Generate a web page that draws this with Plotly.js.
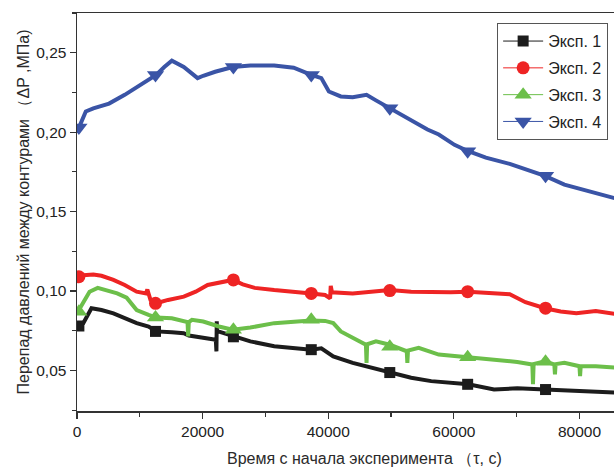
<!DOCTYPE html>
<html><head><meta charset="utf-8">
<script src="https://cdn.plot.ly/plotly-3.0.1.min.js"></script>
<style>html,body{margin:0;padding:0;background:#fff}#chart{width:614px;height:471px}</style>
</head><body><div id="chart"></div>
<script>
const seriesNames = ["Эксп. 1", "Эксп. 2", "Эксп. 3", "Эксп. 4"];
const seriesColors = ["#1c1c1c", "#ee2424", "#6cbf4a", "#3a54a6"];
const seriesSymbols = ["square", "circle", "triangle-up", "triangle-down"];

// Эксп. 1
const x1 = [0, 1000, 2300, 3900, 5800, 7600, 9500, 11400, 12600, 15100, 17000, 17800, 18900, 20800, 22100, 22200, 22250, 22300, 22600, 24800, 27600, 31400, 35100, 37300, 38900, 40800, 43900, 47000, 49800, 53200, 56400, 59500, 62300, 66400, 70100, 74500, 78300, 81400, 86000];
const y1 = [0.0777, 0.0798, 0.0892, 0.0881, 0.086, 0.0833, 0.0798, 0.0777, 0.0746, 0.074, 0.0735, 0.072, 0.0715, 0.0704, 0.0694, 0.062, 0.081, 0.074, 0.0745, 0.0715, 0.0683, 0.0652, 0.0635, 0.0631, 0.064, 0.0589, 0.0548, 0.0517, 0.0485, 0.0454, 0.0433, 0.0423, 0.0413, 0.0381, 0.0388, 0.0381, 0.0375, 0.0367, 0.036];
const m1x = [300, 12500, 24900, 37300, 49800, 62200, 74600];
const m1y = [0.078, 0.0746, 0.0712, 0.0631, 0.0487, 0.0413, 0.038];

// Эксп. 2
const x2 = [0, 1000, 2600, 3900, 5800, 7600, 9500, 11000, 11200, 11700, 12600, 14500, 17000, 18900, 20800, 22600, 24800, 26400, 28300, 31400, 35100, 37300, 39500, 40300, 40400, 40600, 43900, 47000, 49800, 53200, 56400, 59500, 62300, 65800, 68900, 71400, 74500, 77000, 79500, 82600, 86000];
const y2 = [0.1083, 0.110, 0.1104, 0.1096, 0.107, 0.1038, 0.0996, 0.0985, 0.101, 0.0944, 0.0923, 0.0944, 0.0965, 0.0996, 0.1038, 0.1054, 0.107, 0.1042, 0.102, 0.1006, 0.0996, 0.0985, 0.0975, 0.0954, 0.1033, 0.0992, 0.0985, 0.0996, 0.1006, 0.0996, 0.0992, 0.0992, 0.0996, 0.0985, 0.098, 0.093, 0.0892, 0.0871, 0.086, 0.0875, 0.0854];
const m2x = [300, 12500, 24900, 37300, 49800, 62200, 74600];
const m2y = [0.109, 0.0923, 0.107, 0.0985, 0.1003, 0.0996, 0.0892];

// Эксп. 3
const x3 = [0, 1000, 2000, 3300, 4500, 6400, 7900, 9500, 11400, 12600, 15100, 17600, 17700, 17800, 18300, 20100, 22600, 24800, 27600, 31400, 35100, 37300, 39500, 40800, 42000, 43900, 46000, 46100, 46200, 47600, 49800, 52500, 52600, 52700, 54400, 57600, 62300, 66400, 70100, 72500, 72600, 72700, 74500, 76000, 76100, 76200, 77600, 80000, 80100, 80200, 82600, 86000];
const y3 = [0.086, 0.0933, 0.0996, 0.102, 0.1006, 0.0985, 0.0958, 0.088, 0.085, 0.0833, 0.0829, 0.0804, 0.0715, 0.0805, 0.0819, 0.0808, 0.0777, 0.0756, 0.077, 0.0798, 0.0808, 0.0815, 0.0812, 0.0798, 0.0746, 0.0704, 0.0662, 0.0548, 0.0665, 0.0683, 0.0662, 0.0621, 0.0548, 0.0625, 0.0642, 0.060, 0.0583, 0.0569, 0.0554, 0.0538, 0.0413, 0.054, 0.0558, 0.0538, 0.0475, 0.054, 0.0548, 0.0527, 0.0465, 0.0528, 0.0527, 0.0517];
const m3x = [300, 12500, 24900, 37300, 49800, 62200, 74600];
const m3y = [0.087, 0.0833, 0.0756, 0.082, 0.065, 0.0583, 0.0555];

// Эксп. 4
const x4 = [0, 1400, 2600, 5100, 7600, 10100, 12600, 13900, 15100, 17000, 19200, 20100, 22000, 24800, 27600, 31400, 34500, 37300, 38900, 40100, 42000, 43900, 46100, 47600, 49800, 52600, 55800, 57600, 60100, 62300, 65100, 68900, 72000, 74500, 77600, 81400, 86000];
const y4 = [0.200, 0.213, 0.215, 0.218, 0.2235, 0.230, 0.236, 0.241, 0.245, 0.241, 0.234, 0.2355, 0.238, 0.241, 0.242, 0.242, 0.2406, 0.236, 0.234, 0.2256, 0.2225, 0.222, 0.2235, 0.220, 0.215, 0.209, 0.2017, 0.1985, 0.192, 0.188, 0.184, 0.180, 0.1756, 0.1725, 0.167, 0.163, 0.158];
const m4x = [300, 12500, 24900, 37300, 49800, 62200, 74600];
const m4y = [0.203, 0.236, 0.241, 0.236, 0.215, 0.188, 0.1725];

const xTickStep = 20000;
const yTickStep = 0.05;

const lineX = [x1, x2, x3, x4], lineY = [y1, y2, y3, y4];
const markX = [m1x, m2x, m3x, m4x], markY = [m1y, m2y, m3y, m4y];
const markerSizes = [11, 13, 15, 15];

const traces = [];
for (let i = 0; i < 4; i++) {
  traces.push({x: lineX[i], y: lineY[i], type: 'scatter', mode: 'lines',
    line: {color: seriesColors[i], width: 4}, showlegend: false, hoverinfo: 'skip'});
}
for (let i = 0; i < 4; i++) {
  traces.push({x: markX[i], y: markY[i], type: 'scatter', mode: 'markers',
    marker: {color: seriesColors[i], symbol: seriesSymbols[i], size: markerSizes[i]}, showlegend: false});
}
for (let i = 0; i < 4; i++) {
  traces.push({x: [null], y: [null], type: 'scatter', mode: 'lines+markers', name: seriesNames[i],
    legendgroup: 'g' + i,
    line: {color: seriesColors[i], width: 1}, marker: {color: seriesColors[i], symbol: seriesSymbols[i], size: markerSizes[i]}});
}

const fam = 'Liberation Sans, Arial, sans-serif';
const layout = {
  width: 614, height: 471,
  margin: {l: 77, r: 0, t: 13, b: 60},
  paper_bgcolor: '#fff', plot_bgcolor: '#fff',
  font: {family: fam, size: 15, color: '#2a2a2a'},
  separators: ',',
  showlegend: true,
  legend: {x: 0.782, y: 0.975, xanchor: 'left', yanchor: 'top', bordercolor: '#555', borderwidth: 1.2,
    bgcolor: '#fff', font: {family: fam, size: 16, color: '#222'}, traceorder: 'grouped', tracegroupgap: 3,
    itemwidth: 40},
  xaxis: {range: [0, 85500], dtick: xTickStep, tick0: 0, showgrid: false, zeroline: false,
    showline: true, linecolor: '#333', linewidth: 1.5, mirror: true,
    ticks: 'outside', ticklen: 6, tickwidth: 1.3, tickcolor: '#333', exponentformat: 'none',
    tickfont: {family: fam, size: 15.5, color: '#222'},
    minor: {dtick: 10000, ticks: 'outside', ticklen: 4, tickwidth: 1.2, tickcolor: '#333', showgrid: false}},
  yaxis: {range: [0.0245, 0.275], dtick: yTickStep, tick0: 0, tickformat: '.2f', showgrid: false, zeroline: false,
    showline: true, linecolor: '#333', linewidth: 1.5,
    ticks: 'outside', ticklen: 6, tickwidth: 1.3, tickcolor: '#333',
    tickfont: {family: fam, size: 15.5, color: '#222'},
    title: {text: 'Перепад давлений между контурами （ΔP ,МПа)', font: {family: fam, size: 16, color: '#2a2a2a'}, standoff: 2},
    minor: {dtick: 0.025, ticks: 'outside', ticklen: 4, tickwidth: 1.2, tickcolor: '#333', showgrid: false}},
  annotations: [{text: 'Время с начала эксперимента （τ, c)', xref: 'paper', yref: 'paper', x: 0.536, y: 0,
    yshift: -47, xanchor: 'center', yanchor: 'middle', showarrow: false,
    font: {family: fam, size: 16, color: '#2a2a2a'}}]
};
Plotly.newPlot('chart', traces, layout, {displayModeBar: false, staticPlot: true});
</script></body></html>
